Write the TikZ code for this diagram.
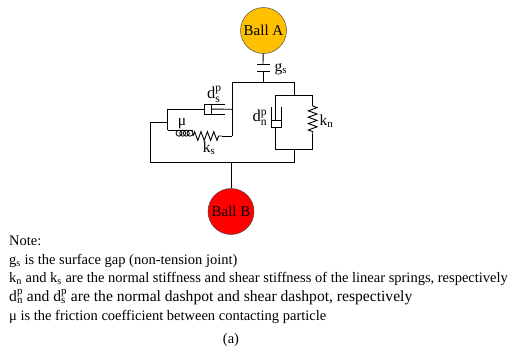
\documentclass[tikz,border=0pt]{standalone}
\usepackage{fontspec}
\setmainfont{Liberation Serif}
\usetikzlibrary{decorations.pathmorphing,positioning}

\begin{document}
\begin{tikzpicture}
%Contact model
	[
	 	 %Styles
       x=1pt,y=-1pt,
       line_simple/.style={draw=black,line width=0.9pt},
       ball_node/.style={circle,draw=black!70,line width=0.5pt,minimum size=46pt,inner sep=0pt,font=\fontsize{15}{17}\selectfont},
       spring_line/.style={line_simple,decorate,decoration={zigzag,segment length=6.4pt,amplitude=4.4pt}},
       pot_box/.style={rectangle,draw=black,line width=0.9pt,fill=white,inner sep=0pt},
       coil_node/.style={circle,draw=black,line width=0.8pt,minimum size=6pt,inner sep=0pt},
       label_simple/.style={inner sep=0pt,font=\fontsize{15.5}{18}\selectfont},
       pot_label/.style={inner sep=0pt,font=\fontsize{16.5}{20}\selectfont},
       note_line/.style={anchor=base west,inner sep=0pt,font=\fontsize{14.5}{17}\selectfont},
       pot_line/.style={note_line,font=\fontsize{15.6}{17}\selectfont}
    ]
    \useasboundingbox (0,0) rectangle (512,349);

    %Balls
    \node (ballA) [ball_node,fill={rgb,255:red,255;green,192;blue,0}] at (263.5,30.5) {Ball A};
    \node (ballB) [ball_node,fill=red] at (231,211.5) {Ball B};

    %Corner points
    \coordinate (gapU) at (263,64);
    \coordinate (gapL) at (263,71);
    \coordinate (topM) at (263,82);
    \coordinate (topL) at (232,82);
    \coordinate (topR) at (294,82);
    \coordinate (unitTR) at (294,95);
    \coordinate (unitTL) at (275.5,95);
    \coordinate (unitTS) at (312.7,95);
    \coordinate (unitBL) at (275.5,149);
    \coordinate (unitBS) at (312.7,149);
    \coordinate (unitBR) at (294,149);
    \coordinate (botR) at (294,162.7);
    \coordinate (botL) at (150,162.7);
    \coordinate (botM) at (231,162.7);
    \coordinate (armL) at (150,122);
    \coordinate (armR) at (167.7,122);
    \coordinate (shearT) at (167.7,109.3);
    \coordinate (shearB) at (167.7,130);
    \coordinate (coilEnd) at (193,130);
    \coordinate (sprS) at (193,136);
    \coordinate (sprE) at (221.5,136);
    \coordinate (sprR) at (232,136);
    \coordinate (rodR) at (232,109.3);

    %Gap
    \draw [line_simple] (ballA) -- (gapU);
    \draw [line_simple] (gapL) -- (topM);
    \draw [line_simple] (257,64) -- (270,64);
    \draw [line_simple] (257,71) -- (270,71);

    %Frame
    \draw [line_simple] (sprR) -- (topL) -- (topR) -- (unitTR);
    \draw [line_simple] (unitTS) -- (unitTL) -- (unitBL) -- (unitBS);
    \draw [line_simple] (unitBR) -- (botR) -- (botL) -- (armL) -- (armR);
    \draw [line_simple] (botM) -- (ballB);

    %Normal spring
    \draw [line_simple] (unitTS) -- (312.7,106);
    \draw [spring_line] (312.7,106) -- (312.7,134);
    \draw [line_simple] (312.7,134) -- (unitBS);

    %Normal dashpot
    \draw [line_simple] (271.3,106.7) -- (271.3,127.5) -- (281,127.5) -- (281,106.7);
    \node (potN) [pot_box,minimum width=9.7pt,minimum height=7.5pt] at (276.2,123.7) {};

    %Shear dashpot
    \draw [line_simple] (shearB) -- (shearT) -- (204,109.3);
    \draw [line_simple] (225,104) -- (204,104) -- (204,114) -- (225,114);
    \node (potS) [pot_box,minimum width=7.5pt,minimum height=10pt] at (207.7,109) {};
    \draw [line_simple] (potS) -- (rodR);

    %Slider and shear spring
    \draw [line_simple] (shearB) -- (coilEnd);
    \foreach \cx [count=\ci] in {179,182.7,186.3,190} {
       \node (coil\ci) [coil_node] at (\cx,133.2) {};
    }
    \draw [spring_line] (sprS) -- (sprE);
    \draw [line_simple] (sprE) -- (sprR);

    %Labels
    \node (labelGs) [label_simple,anchor=base west] at (274.5,71) {g\textsubscript{s}};
    \node (labelDs) [pot_label] at (214.5,94.5) {$\mathrm{d}_{\mathrm{s}}^{\mathrm{p}}$};
    \node (labelDn) [pot_label] at (260,118) {$\mathrm{d}_{\mathrm{n}}^{\mathrm{p}}$};
    \node (labelKn) [label_simple,anchor=base west] at (319.5,125) {k\textsubscript{n}};
    \node (labelKs) [label_simple,anchor=base] at (209,152) {k\textsubscript{s}};
    \node (labelMu) [label_simple,anchor=base] at (182,125) {μ};

    %Note
    \node (note0) [note_line] at (9,245) {Note:};
    \node (note1) [note_line] at (9,264) {g\textsubscript{s} is the surface gap (non-tension joint)};
    \node (note2) [note_line] at (9,282.5) {k\textsubscript{n} and k\textsubscript{s} are the normal stiffness and shear stiffness of the linear springs, respectively};
    \node (note3) [pot_line] at (9,301.5) {$\mathrm{d}_{\mathrm{n}}^{\mathrm{p}}$ and $\mathrm{d}_{\mathrm{s}}^{\mathrm{p}}$ are the normal dashpot and shear dashpot, respectively};
    \node (note4) [note_line] at (9,320) {μ is the friction coefficient between contacting particle};
    \node (caption) [note_line,anchor=base] at (231,343) {(a)};
\end{tikzpicture}
\end{document}
